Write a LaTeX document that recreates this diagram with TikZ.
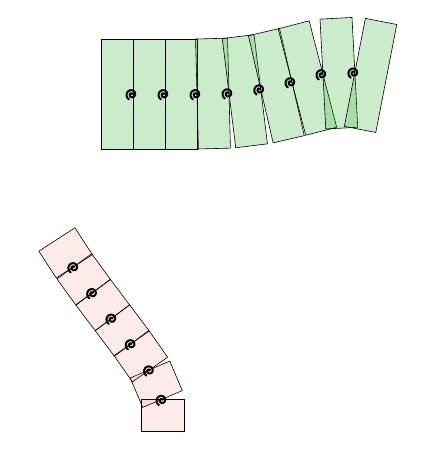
\documentclass[tikz,border=0pt]{standalone}
\usetikzlibrary{calc}
\definecolor{lkgreen}{RGB}{20,170,20}
\definecolor{lkpink}{RGB}{235,90,70}
\tikzset{
  toplink/.style={draw=black, line width=0.6pt, fill=lkgreen, fill opacity=0.22, draw opacity=1,
    rectangle, minimum width=32pt, minimum height=110pt, inner sep=0pt, outer sep=0pt, anchor=west},
  botlink/.style={draw=black, line width=0.6pt, fill=lkpink, fill opacity=0.12, draw opacity=1,
    rectangle, minimum width=43pt, minimum height=32pt, inner sep=0pt, outer sep=0pt, anchor=south},
  spiral/.pic={\draw[line width=2pt, line cap=round, black]
     plot[domain=40:600, samples=100, smooth] (\x:{0.3+5.3*\x/600});}
}
\begin{document}
\begin{tikzpicture}[x=1pt,y=1pt]
\useasboundingbox (0,0) rectangle (432,452);
% top chain
\coordinate (j0) at (101,358);
\node[toplink, rotate=0]    (l1) at (j0) {};
\node[toplink, rotate=0]    (l2) at (l1.east) {};
\node[toplink, rotate=0]    (l3) at (l2.east) {};
\node[toplink, rotate=1.5]  (l4) at (l3.east) {};
\node[toplink, rotate=7]    (l5) at (l4.east) {};
\node[toplink, rotate=13]   (l6) at (l5.east) {};
\node[toplink, rotate=14.5] (l7) at (l6.east) {};
\node[toplink, rotate=3]    (l8) at (l7.east) {};
\node[toplink, rotate=-11]  (l9) at (l8.east) {};
\foreach \n in {1,...,8} {
  \pic at ($(l\n.east)+(-1.3,-0.5)$) {spiral};
}
% bottom chain
\coordinate (k0) at (162.5,21);
\node[botlink, rotate=0]  (b0) at (k0) {};
\node[botlink, rotate=23] (b1) at (b0.north) {};
\node[botlink, rotate=35] (b2) at (b1.north) {};
\node[botlink, rotate=37] (b3) at (b2.north) {};
\node[botlink, rotate=37] (b4) at (b3.north) {};
\node[botlink, rotate=36] (b5) at (b4.north) {};
\node[botlink, rotate=33] (b6) at (b5.north) {};
\foreach \n in {0,...,5} {
  \pic at ($(b\n.north)+(-0.8,-1.2)$) {spiral};
}
\end{tikzpicture}
\end{document}
